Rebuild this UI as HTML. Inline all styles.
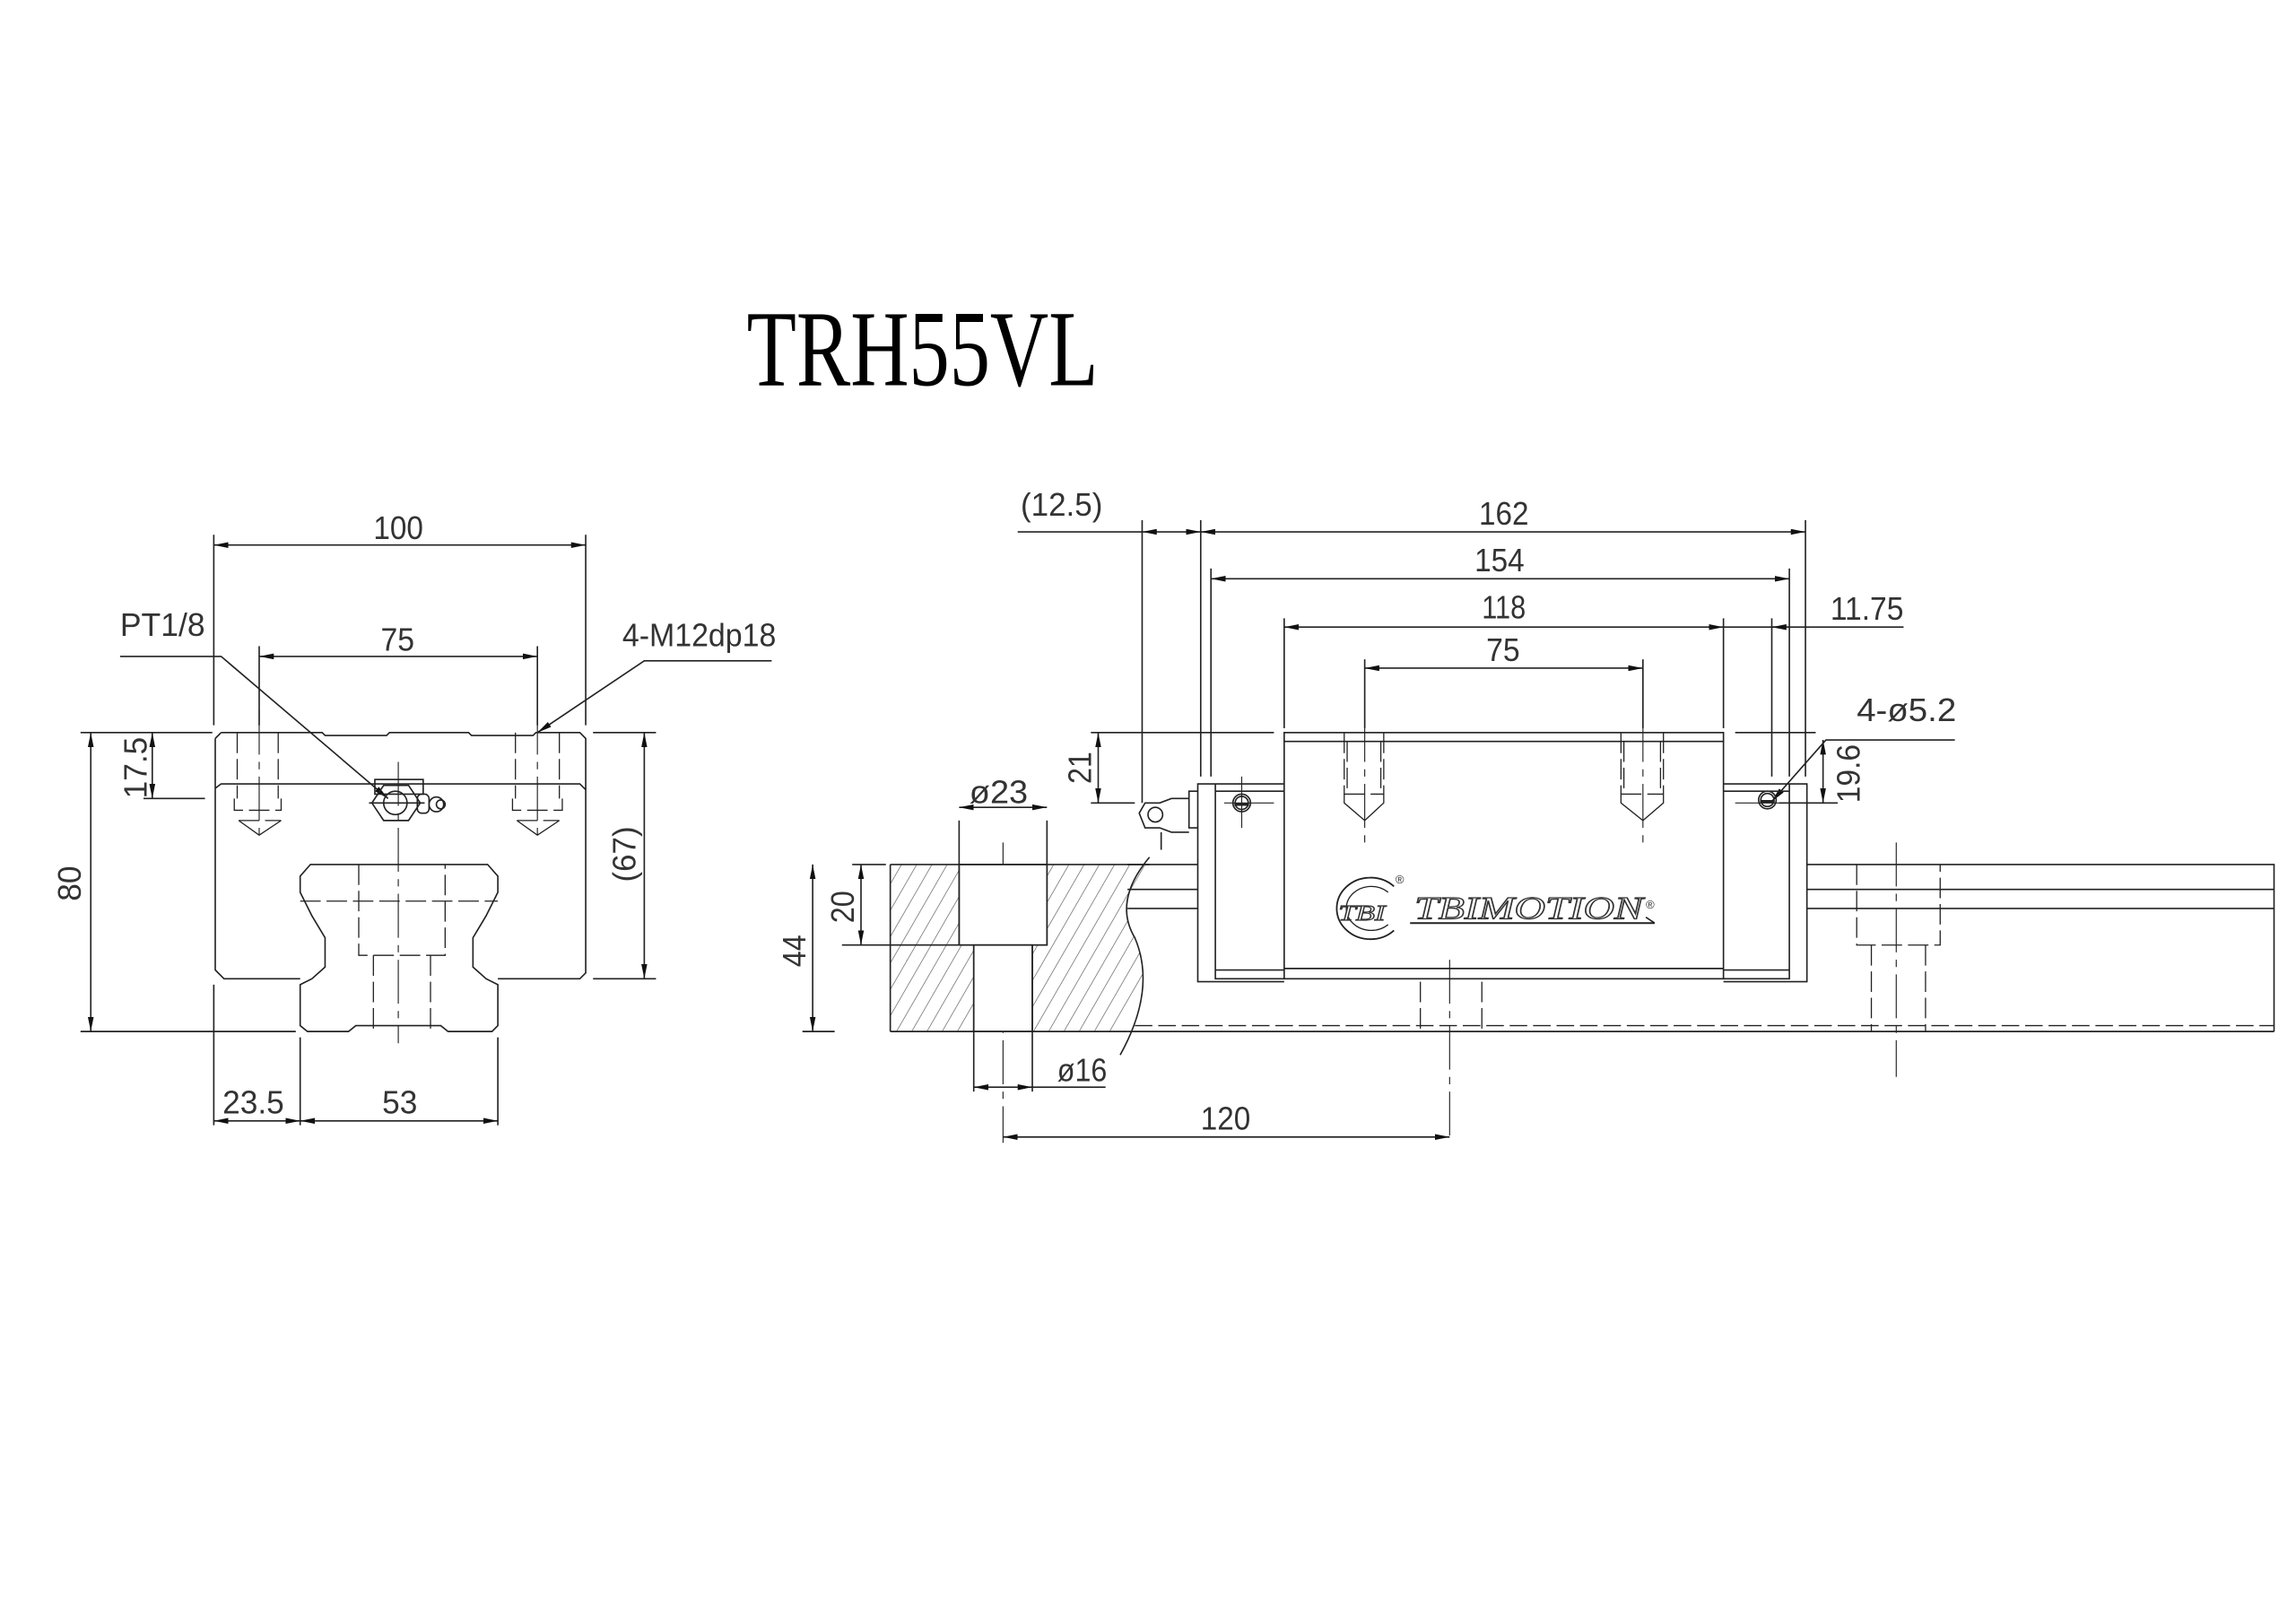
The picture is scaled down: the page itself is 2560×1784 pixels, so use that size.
<!DOCTYPE html>
<html><head><meta charset="utf-8"><style>
html,body{margin:0;padding:0;background:#fff}
svg{display:block}
text{font-family:"Liberation Sans",sans-serif;fill:#333}
</style></head><body>
<svg width="2560" height="1784" viewBox="0 0 1568 1092" preserveAspectRatio="none" xmlns="http://www.w3.org/2000/svg">
<defs>
<marker id="a" viewBox="0 0 10 4" refX="10" refY="2" markerWidth="10" markerHeight="4" orient="auto-start-reverse" markerUnits="userSpaceOnUse"><path d="M0,0 L10,2 L0,4z" fill="#111"/></marker>
<pattern id="h" width="9" height="9" patternUnits="userSpaceOnUse" patternTransform="rotate(30)"><line x1="0" y1="0" x2="0" y2="9" stroke="#555" stroke-width="0.8"/></pattern>
</defs>
<g stroke="#222" stroke-width="1" fill="none">
<!-- ========== LEFT VIEW ========== -->
<line x1="146" y1="365" x2="146" y2="495"/><line x1="400" y1="365" x2="400" y2="495"/>
<line x1="146" y1="372" x2="400" y2="372" marker-start="url(#a)" marker-end="url(#a)"/>
<line x1="177" y1="441" x2="177" y2="495"/><line x1="367" y1="441" x2="367" y2="495"/>
<line x1="177" y1="448" x2="367" y2="448" marker-start="url(#a)" marker-end="url(#a)"/>
<line x1="55" y1="500" x2="145" y2="500"/><line x1="55" y1="704" x2="202" y2="704"/>
<line x1="62" y1="500" x2="62" y2="704" marker-start="url(#a)" marker-end="url(#a)"/>
<line x1="104" y1="500" x2="104" y2="545" marker-start="url(#a)" marker-end="url(#a)"/>
<line x1="98" y1="545" x2="140" y2="545"/>
<line x1="405" y1="500" x2="448" y2="500"/><line x1="405" y1="668" x2="448" y2="668"/>
<line x1="440" y1="500" x2="440" y2="668" marker-start="url(#a)" marker-end="url(#a)"/>
<line x1="146" y1="672" x2="146" y2="768"/><line x1="205" y1="708" x2="205" y2="768"/><line x1="340" y1="708" x2="340" y2="768"/>
<line x1="146" y1="765" x2="205" y2="765" marker-start="url(#a)" marker-end="url(#a)"/>
<line x1="205" y1="765" x2="340" y2="765" marker-start="url(#a)" marker-end="url(#a)"/>
<polyline points="82,448 151,448 265,545" marker-end="url(#a)"/>
<polyline points="527,451 440,451 367,500" marker-end="url(#a)"/>
<path d="M151,500 L220,500 L222,502 L264,502 L266,500 L320,500 L322,502 L364,502 L366,500 L396,500 L400,504 L400,664 L396,668 L340,668 M205,668 L153,668 L147,662 L147,538 L151,535 L396,535 L400,539 M147,504 L151,500 M147,504 L147,538"/>
<path d="M212,590 L333,590 L340,598 L340,609 L337,615 L332,625 L323,640 L323,660 L332,668 L340,672 L340,700 L336,704 L306,704 L301,700 L243,700 L238,704 L210,704 L205,700 L205,672 L213,668 L222,660 L222,640 L213,625 L208,615 L205,609 L205,598 Z"/>
<g stroke-dasharray="14,4" stroke-width="0.8">
<path d="M205,615 L340,615 M245,590 L245,652 L304,652 L304,590 M255,652 L255,704 M294,652 L294,704"/>
<path d="M162,500 L162,545 M190,500 L190,545 M160,545 L160,553 L192,553 L192,545 M163,560 L192,560 M352,500 L352,545 M382,500 L382,545 M350,545 L350,553 L384,553 L384,545 M353,560 L382,560"/>
</g>
<path d="M163,560 L177,570 L192,560 M353,560 L367,570 L382,560" stroke-width="0.8"/>
<g stroke-dasharray="30,5,5,5" stroke-width="0.7"><line x1="177" y1="485" x2="177" y2="575"/><line x1="367" y1="485" x2="367" y2="575"/><line x1="272" y1="520" x2="272" y2="712"/></g>
<rect x="256" y="532" width="33" height="10"/>
<polygon points="262,536 279,536 287,548 279,560 262,560 254,548"/>
<circle cx="270" cy="548" r="8"/>
<line x1="252" y1="548" x2="290" y2="548"/>
<rect x="285" y="542" width="8" height="13" rx="3"/><ellipse cx="298" cy="549" rx="5" ry="5"/><circle cx="301" cy="549" r="3"/>

<!-- ========== RIGHT VIEW ========== -->
<line x1="695" y1="363" x2="780" y2="363"/>
<line x1="780" y1="355" x2="780" y2="548"/><line x1="820" y1="355" x2="820" y2="530"/><line x1="1233" y1="355" x2="1233" y2="530"/>
<line x1="780" y1="363" x2="820" y2="363" marker-start="url(#a)" marker-end="url(#a)"/>
<line x1="820" y1="363" x2="1233" y2="363" marker-start="url(#a)" marker-end="url(#a)"/>
<line x1="827" y1="388" x2="827" y2="530"/><line x1="1222" y1="388" x2="1222" y2="530"/>
<line x1="827" y1="395" x2="1222" y2="395" marker-start="url(#a)" marker-end="url(#a)"/>
<line x1="877" y1="422" x2="877" y2="497"/><line x1="1177" y1="422" x2="1177" y2="497"/><line x1="1210" y1="422" x2="1210" y2="530"/>
<line x1="877" y1="428" x2="1177" y2="428" marker-start="url(#a)" marker-end="url(#a)"/>
<line x1="1177" y1="428" x2="1300" y2="428"/>
<line x1="1222" y1="428" x2="1210" y2="428" marker-end="url(#a)"/>
<line x1="932" y1="456" x2="1122" y2="456" marker-start="url(#a)" marker-end="url(#a)"/>
<line x1="932" y1="450" x2="932" y2="497"/><line x1="1122" y1="450" x2="1122" y2="497"/>
<line x1="745" y1="500" x2="870" y2="500"/><line x1="1185" y1="500" x2="1240" y2="500"/>
<line x1="745" y1="548" x2="775" y2="548"/>
<line x1="750" y1="500" x2="750" y2="548" marker-start="url(#a)" marker-end="url(#a)"/>
<line x1="1215" y1="548" x2="1255" y2="548"/>
<line x1="1245" y1="505" x2="1245" y2="548" marker-start="url(#a)" marker-end="url(#a)"/>
<polyline points="1335,505 1247,505 1210,547" marker-end="url(#a)"/>
<rect x="877" y="500" width="300" height="168"/>
<line x1="877" y1="506" x2="1177" y2="506"/><line x1="877" y1="661" x2="1177" y2="661"/>
<path d="M877,535 L830,535 L830,668 L877,668 M830,535 L818,535 L818,670 L877,670 M818,540 L812,540 L812,565 L818,565 M877,540 L830,540 M830,662 L877,662"/>
<path d="M1177,535 L1222,535 L1222,668 L1177,668 M1222,535 L1234,535 L1234,670 L1177,670 M1177,540 L1222,540 M1222,662 L1177,662"/>
<path d="M812,545 L800,545 L792,548 L782,548 L778,555 L782,565 L792,565 L800,568 L812,568"/>
<circle cx="789" cy="556" r="5"/>
<line x1="793" y1="568" x2="793" y2="580"/>
<circle cx="848" cy="548" r="6"/><circle cx="848" cy="548" r="4.5"/><line x1="843" y1="549" x2="853" y2="549" stroke-width="2"/>
<circle cx="1207" cy="546" r="6"/><circle cx="1207" cy="546" r="4.5"/><line x1="1202" y1="547" x2="1212" y2="547" stroke-width="2"/>
<line x1="836" y1="548" x2="870" y2="548" stroke-width="0.7"/><line x1="848" y1="530" x2="848" y2="565" stroke-width="0.7"/>
<line x1="1185" y1="548" x2="1226" y2="548" stroke-width="0.7"/>
<g stroke-dasharray="14,4" stroke-width="0.8">
<path d="M918,500 L918,542 M945,500 L945,542 M918,542 L945,542 M1107,500 L1107,542 M1136,500 L1136,542 M1107,542 L1136,542"/>
<path d="M920,506 L920,542 M943,506 L943,542 M1109,506 L1109,542 M1134,506 L1134,542"/>
</g>
<path d="M918,542 L918,548 L932,560 L945,548 L945,542 M1107,542 L1107,548 L1122,560 L1136,548 L1136,542" stroke-width="0.8"/>
<g stroke-dasharray="30,5,5,5" stroke-width="0.7">
<line x1="932" y1="490" x2="932" y2="575"/><line x1="1122" y1="490" x2="1122" y2="575"/>
<line x1="990" y1="655" x2="990" y2="780"/><line x1="1295" y1="575" x2="1295" y2="735"/>
<line x1="685" y1="575" x2="685" y2="780"/>
</g>
<!-- logo -->
<path d="M952,605 A23,21 0 1 0 952,635" stroke-width="1.1"/>
<path d="M948,609 A17,15 0 1 0 948,631" stroke-width="0.8"/>
<line x1="963" y1="630" x2="1130" y2="630" stroke-width="1.2"/>
<path d="M1124,626 L1130,630" stroke-width="1"/>
<path d="M770,590 L818,590 M1234,590 L1553,590 L1553,704 M770,704 L1553,704"/>
<path d="M770,607 L818,607 M1234,607 L1553,607 M770,620 L818,620 M1234,620 L1553,620"/>
<line x1="775" y1="700" x2="1553" y2="700" stroke-dasharray="12,4" stroke-width="0.8"/>
<g stroke-dasharray="14,4" stroke-width="0.8">
<path d="M1268,590 L1268,645 L1325,645 L1325,590 M1278,645 L1278,704 M1315,645 L1315,704 M970,670 L970,704 M1012,670 L1012,704"/>
</g>
<path d="M608,590 L785,590 Q760,615 775,640 Q790,675 765,704 L608,704 Z" fill="url(#h)" stroke="none"/>
<path d="M608,590 L608,704 M785,585 Q760,615 775,640 Q790,675 765,720"/>
<rect x="655" y="590" width="60" height="55" fill="#fff"/>
<rect x="665" y="645" width="40" height="59" fill="#fff"/>
<path d="M655,560 L655,645 L715,645 L715,560 M665,645 L665,745 M705,645 L705,745"/>
<line x1="608" y1="590" x2="785" y2="590"/><line x1="608" y1="704" x2="770" y2="704"/>
<line x1="655" y1="551" x2="715" y2="551" marker-start="url(#a)" marker-end="url(#a)"/>
<line x1="665" y1="742" x2="705" y2="742" marker-start="url(#a)" marker-end="url(#a)"/>
<line x1="705" y1="742" x2="755" y2="742"/>
<line x1="685" y1="776" x2="990" y2="776" marker-start="url(#a)" marker-end="url(#a)"/>
<line x1="582" y1="590" x2="605" y2="590"/><line x1="575" y1="645" x2="655" y2="645"/><line x1="548" y1="704" x2="570" y2="704"/>
<line x1="588" y1="590" x2="588" y2="645" marker-start="url(#a)" marker-end="url(#a)"/>
<line x1="555" y1="590" x2="555" y2="704" marker-start="url(#a)" marker-end="url(#a)"/>
</g>

<text x="510" y="263" font-size="74" textLength="240" lengthAdjust="spacingAndGlyphs" style="font-family:'Liberation Serif',serif;fill:#000">TRH55VL</text>
<g font-size="22">
<text x="255" y="368" textLength="34" lengthAdjust="spacingAndGlyphs">100</text>
<text x="260" y="444" textLength="23" lengthAdjust="spacingAndGlyphs">75</text>
<text x="82" y="434" textLength="58" lengthAdjust="spacingAndGlyphs">PT1/8</text>
<text x="425" y="441" textLength="105" lengthAdjust="spacingAndGlyphs">4-M12dp18</text>
<text x="152" y="760" textLength="42" lengthAdjust="spacingAndGlyphs">23.5</text>
<text x="261" y="760" textLength="24" lengthAdjust="spacingAndGlyphs">53</text>
<text transform="translate(55,615) rotate(-90)" textLength="24" lengthAdjust="spacingAndGlyphs">80</text>
<text transform="translate(100,545) rotate(-90)" textLength="42" lengthAdjust="spacingAndGlyphs">17.5</text>
<text transform="translate(434,602) rotate(-90)" textLength="38" lengthAdjust="spacingAndGlyphs">(67)</text>
<text x="697" y="352" textLength="56" lengthAdjust="spacingAndGlyphs">(12.5)</text>
<text x="1010" y="358" textLength="34" lengthAdjust="spacingAndGlyphs">162</text>
<text x="1007" y="390" textLength="34" lengthAdjust="spacingAndGlyphs">154</text>
<text x="1012" y="422" textLength="30" lengthAdjust="spacingAndGlyphs">118</text>
<text x="1015" y="451" textLength="23" lengthAdjust="spacingAndGlyphs">75</text>
<text x="1250" y="423" textLength="50" lengthAdjust="spacingAndGlyphs">11.75</text>
<text x="1268" y="492" textLength="68" lengthAdjust="spacingAndGlyphs">4-ø5.2</text>
<text transform="translate(745,535) rotate(-90)" textLength="22" lengthAdjust="spacingAndGlyphs">21</text>
<text transform="translate(1270,548) rotate(-90)" textLength="40" lengthAdjust="spacingAndGlyphs">19.6</text>
<text x="662" y="548" textLength="40" lengthAdjust="spacingAndGlyphs">ø23</text>
<text x="722" y="738" textLength="34" lengthAdjust="spacingAndGlyphs">ø16</text>
<text x="820" y="771" textLength="34" lengthAdjust="spacingAndGlyphs">120</text>
<text transform="translate(583,630) rotate(-90)" textLength="22" lengthAdjust="spacingAndGlyphs">20</text>
<text transform="translate(550,660) rotate(-90)" textLength="22" lengthAdjust="spacingAndGlyphs">44</text>
</g>
<text x="914" y="628" font-size="15" font-style="italic" textLength="32" lengthAdjust="spacingAndGlyphs" style="font-family:'Liberation Serif',serif;fill:#fff;stroke:#333;stroke-width:0.7">TBI</text>
<text x="966" y="627" font-size="22" font-style="italic" textLength="156" lengthAdjust="spacingAndGlyphs" style="font-family:'Liberation Serif',serif;fill:#fff;stroke:#333;stroke-width:0.8">TBIMOTION</text>
<text x="953" y="603" font-size="8" style="fill:#333">®</text>
<text x="1124" y="620" font-size="8" style="fill:#333">®</text>
</svg>
</body></html>
